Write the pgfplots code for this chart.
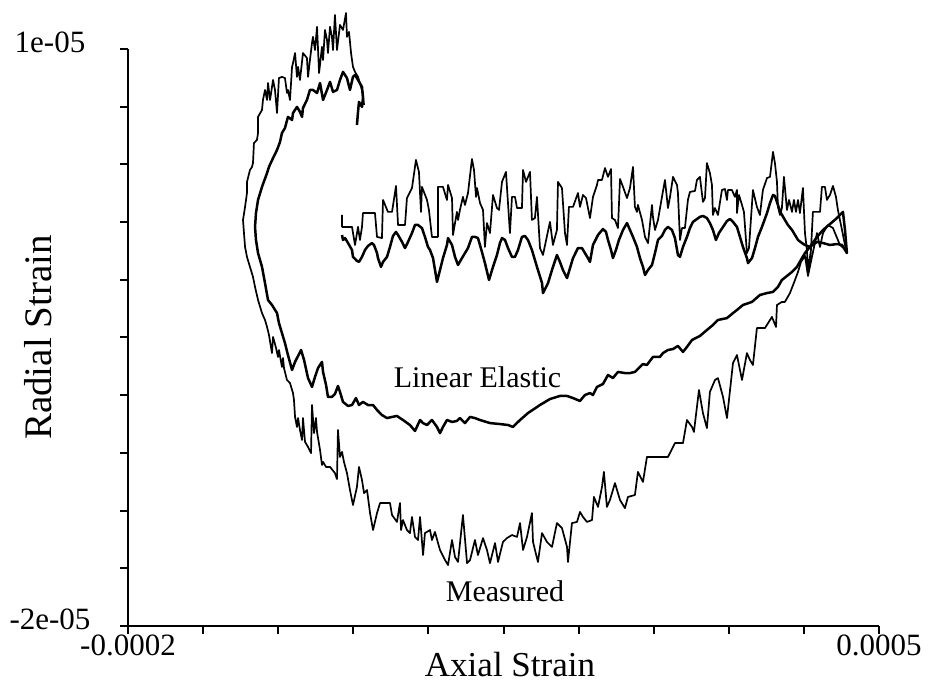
\documentclass[border=0pt]{standalone}
\usepackage{fontspec}
\setmainfont{Liberation Serif}
\usepackage{pgfplots}
\pgfplotsset{compat=1.18}

% strains in units of 1e-6 (microstrain)
\begin{document}
\begin{tikzpicture}
\useasboundingbox (-64pt,-31pt) rectangle (401pt,313pt);
\begin{axis}[
    at={(0pt,0pt)}, anchor=south west,
    scale only axis,
    width=375.5pt, height=288.5pt,
    xmin=-200, xmax=500,
    ymin=-20, ymax=10,
    axis lines=left,
    axis line style={-, line width=1pt},
    tick align=outside,
    major tick length=4pt,
    every tick/.style={black, line width=1pt},
    xtick={-200,-130,-60,10,80,150,220,290,360,430,500},
    ytick={-20,-17,-14,-11,-8,-5,-2,1,4,7,10},
    xticklabels={-0.0002,,,,,,,,,,0.0005},
    yticklabels={-2e-05,,,,,,,,,,1e-05},
    tick label style={font=\fontsize{15.5}{18}\selectfont},
    xticklabel style={anchor=center, yshift=-5.5pt},
    yticklabel style={anchor=center, xshift=-35pt, yshift=3.5pt},
    xlabel={Axial Strain},
    ylabel={Radial Strain},
    xlabel style={font=\fontsize{17.5}{21}\selectfont, at={(axis description cs:0.5087,-0.087)}, anchor=base},
    ylabel style={font=\fontsize{19.5}{23}\selectfont, at={(axis description cs:-0.1192,0.5)}, anchor=center},
    clip=false,
  ]

% Measured
\addplot[black, line width=0.85pt, line join=round] coordinates {
(-0.5,1.37) (-0.5,0.75) (8.8,0.75) (11.6,-0.19) (14.4,0.75) (16.2,0.07) (18.1,0.75) (19.0,1.47)
(30.2,1.47) (32.1,0.23) (36.7,0.17) (37.7,2.15) (42.3,1.53) (46.1,1.53) (49.8,2.88) (51.7,0.85)
(58.2,0.85) (60.0,2.25) (64.7,2.77) (68.4,4.23) (71.2,3.61) (73.1,1.53) (74.0,2.83) (78.7,2.15)
(80.5,1.63) (83.3,0.23) (88.9,0.23) (88.9,2.83) (93.6,2.83) (97.3,2.15) (98.3,2.93) (102.0,2.25)
(102.9,0.33) (106.6,1.53) (107.6,1.11) (109.4,1.63) (112.2,2.31) (114.1,1.89) (116.9,2.51) (120.6,4.28)
(122.5,3.71) (124.4,2.31) (125.3,2.77) (128.1,1.99) (130.9,1.63) (132.7,-0.29) (134.6,0.95) (137.4,0.43)
(140.2,2.41) (143.9,1.73) (145.8,1.63) (148.6,3.09) (152.3,3.61) (156.0,0.43) (157.9,2.31) (160.7,2.31)
(162.6,1.73) (167.2,1.73) (168.2,3.71) (171.0,3.09) (174.7,3.61) (176.5,1.11) (179.3,1.21) (181.2,2.31)
(184.0,-0.35) (186.8,-0.71) (193.3,1.01) (196.1,-0.19) (199.8,0.59) (200.8,3.09) (204.5,2.77) (207.3,0.43)
(209.2,-0.19) (211.0,1.79) (214.8,1.79) (219.4,2.51) (221.3,1.79) (224.1,2.41) (226.9,2.25) (230.6,1.21)
(233.4,2.31) (237.1,2.93) (238.1,3.19) (241.8,3.19) (244.6,3.81) (247.4,3.35) (250.2,3.76) (251.1,1.21)
(253.9,1.11) (256.7,0.69) (258.6,3.24) (261.4,2.83) (265.1,2.25) (267.9,2.77) (270.7,3.87) (272.5,1.79)
(274.4,1.53) (275.3,1.89) (279.1,1.11) (281.9,0.23) (284.7,-0.09) (288.4,1.89) (289.3,1.27) (291.2,0.59)
(294.0,1.11) (297.7,2.31) (300.5,3.19) (303.3,1.73) (305.2,2.31) (308.0,3.35) (311.7,2.93) (312.6,2.51)
(314.5,0.07) (316.3,0.69) (319.1,0.69) (321.9,2.15) (323.8,2.57) (328.5,2.62) (330.3,3.19) (333.1,3.35)
(335.9,2.05) (337.8,2.25) (339.6,4.07) (342.4,3.55) (344.3,2.93) (345.2,1.37) (347.1,1.73) (349.9,1.37)
(353.6,2.67) (356.4,2.72) (358.3,2.15) (359.2,2.67) (362.9,2.67) (365.7,2.31) (367.6,2.67) (367.6,1.47)
(369.5,2.41) (372.3,1.89) (374.1,1.53) (376.9,-0.61) (378.8,-0.35) (382.5,2.67) (386.2,1.79) (389.0,1.37)
(391.8,2.67) (395.6,3.29) (398.4,3.35) (401.2,4.65) (403.0,4.07) (404.9,3.09) (405.8,1.79) (407.7,1.37)
(409.5,1.73) (411.4,3.35) (414.2,1.63) (416.1,2.15) (418.9,1.53) (420.7,2.15) (422.6,1.53) (424.5,2.15)
(426.3,1.47) (429.1,2.77) (431.0,0.43) (432.8,-0.45) (433.8,-1.49) (436.6,-0.45) (438.4,1.53) (445.0,1.53)
(446.8,2.83) (449.6,2.83) (451.5,2.15) (452.4,2.25) (454.3,2.41) (457.1,2.88) (459.9,2.31) (461.7,1.63)
(465.5,0.59) (469.2,-0.45)
(463.6,-0.19) (457.1,0.69) (452.4,0.85) (447.8,0.43) (445.0,-0.29) (442.2,0.43) (437.5,-0.81) (433.8,-1.80)
(431.0,-0.76) (427.3,-1.07) (424.5,-1.59) (421.7,-2.01) (417.0,-2.69) (412.3,-3.15) (409.5,-3.15) (404.9,-3.31)
(404.0,-4.45) (400.2,-3.93) (393.7,-4.51) (386.2,-4.51) (382.5,-6.43) (379.7,-6.17) (376.9,-5.81) (372.3,-7.21)
(367.6,-5.91) (363.9,-6.33) (358.3,-9.19) (354.6,-8.09) (349.9,-7.11) (347.1,-7.21) (342.4,-7.83) (339.6,-9.71)
(335.9,-8.93) (332.2,-7.73) (327.5,-9.91) (325.7,-9.65) (321.0,-9.29) (317.3,-10.49) (309.8,-10.49) (303.3,-11.21)
(293.1,-11.21) (283.7,-11.21) (280.0,-12.51) (275.3,-11.99) (272.5,-13.19) (266.0,-13.29) (263.2,-13.87) (258.6,-13.45)
(253.9,-12.57) (249.2,-13.45) (246.4,-13.81) (243.6,-11.99) (241.8,-12.77) (238.1,-13.81) (234.3,-13.29) (232.5,-14.49)
(227.8,-14.59) (224.1,-14.33) (221.3,-14.07) (218.5,-14.59) (213.8,-14.65) (210.1,-16.67) (209.2,-15.89) (204.5,-14.91)
(199.8,-14.65) (195.2,-15.89) (190.5,-15.63) (185.9,-15.17) (182.1,-16.67) (177.5,-15.63) (176.5,-14.13) (171.9,-15.37)
(168.2,-16.05) (165.4,-14.65) (162.6,-15.37) (157.9,-15.27) (153.2,-15.43) (149.5,-15.63) (144.9,-16.67) (142.1,-15.69)
(137.4,-16.73) (134.6,-16.05) (130.9,-15.43) (126.2,-16.31) (123.4,-15.53) (118.8,-16.57) (116.0,-16.73) (112.2,-14.23)
(107.6,-16.67) (104.8,-16.41) (102.0,-15.53) (98.3,-16.83) (95.5,-16.57) (90.8,-16.05) (86.1,-15.11) (83.3,-15.53)
(81.5,-15.01) (76.8,-15.17) (75.0,-16.31) (72.2,-14.33) (70.3,-15.53) (67.5,-15.37) (64.7,-14.33) (62.8,-15.17)
(60.0,-15.01) (56.3,-14.49) (54.5,-15.01) (53.5,-13.61) (50.7,-14.59) (46.1,-14.23) (44.2,-13.61) (34.9,-13.61)
(32.1,-14.13) (28.4,-15.01) (25.6,-14.13) (22.8,-12.93) (20.0,-13.09) (18.1,-12.41) (15.3,-11.73) (13.4,-12.77)
(9.7,-13.71) (6.9,-12.93) (4.1,-12.05) (1.3,-11.47) (-0.5,-10.95) (-2.4,-11.21) (-4.3,-9.81) (-5.2,-12.36)
(-7.1,-12.05) (-11.7,-11.73) (-15.4,-11.73) (-18.2,-11.47) (-19.2,-11.63) (-21.0,-10.85) (-23.8,-9.91) (-24.8,-9.19)
(-26.6,-9.97) (-28.5,-8.51) (-29.4,-11.01) (-32.2,-10.69) (-35.0,-10.43) (-36.9,-9.19) (-37.8,-10.33) (-39.7,-9.81)
(-41.5,-9.19) (-42.5,-9.65) (-44.3,-9.13) (-45.3,-8.25) (-46.2,-7.89) (-49.0,-7.37) (-51.8,-7.21) (-54.6,-6.59)
(-55.5,-6.07) (-56.5,-6.53) (-59.3,-5.65) (-60.2,-6.01) (-62.0,-5.55) (-64.8,-4.97) (-65.8,-5.81) (-68.6,-4.87)
(-70.4,-4.45) (-72.3,-4.09) (-75.1,-3.73) (-78.8,-3.05) (-81.6,-2.37) (-83.5,-1.85) (-86.3,-1.33) (-89.1,-0.81)
(-90.9,-0.29) (-91.9,0.43) (-92.8,1.11) (-90.9,1.79) (-89.1,2.51) (-89.1,3.09) (-86.3,3.71) (-84.4,3.87)
(-83.5,4.07) (-82.6,5.11) (-79.8,5.27) (-78.8,5.63) (-78.8,6.47) (-75.1,6.83) (-74.2,7.35) (-72.3,7.87)
(-70.4,7.35) (-69.5,8.23) (-67.6,7.35) (-64.8,8.39) (-63.0,7.87) (-61.1,6.67) (-59.3,8.49) (-56.5,8.55)
(-53.7,8.49) (-51.8,7.71) (-50.9,7.87) (-49.0,7.35) (-47.1,9.07) (-46.2,9.27) (-44.3,9.79) (-42.5,8.55)
(-41.5,9.07) (-39.7,8.39) (-36.9,9.79) (-33.2,9.53) (-32.2,8.55) (-30.4,9.43) (-28.5,10.31) (-27.6,10.63)
(-25.7,9.95) (-23.8,11.15) (-21.9,8.75) (-19.2,10.11) (-18.2,9.43) (-16.4,10.99) (-14.5,10.47) (-13.6,9.79)
(-11.7,11.15) (-9.9,10.63) (-8.9,9.95) (-7.1,11.77) (-5.2,9.95) (-2.4,11.25) (0.4,10.99) (3.2,11.87)
(4.1,10.63) (6.0,10.89) (7.9,9.79) (9.7,9.07) (11.6,8.81) (14.4,8.55) (17.2,8.03) (19.0,7.71) (20.0,7.09)
};

% Linear Elastic
\addplot[black, line width=1.25pt, line join=round] coordinates {
(-0.5,0.33) (0.4,0.07) (2.3,0.17) (5.1,-0.09) (8.8,-0.45) (9.7,-0.81) (13.4,-1.02) (15.3,-1.07)
(18.1,-0.81) (20.9,-0.45) (23.7,-0.24) (27.4,-0.09) (29.3,-0.19) (32.1,-0.61) (33.0,-0.87) (35.8,-1.33)
(37.7,-1.07) (41.4,-0.81) (44.2,-0.29) (47.0,0.28) (49.8,0.49) (51.7,0.33) (55.4,-0.03) (58.2,-0.35)
(61.0,-0.03) (64.7,0.43) (67.5,0.85) (70.3,0.85) (74.0,0.69) (76.8,0.23) (79.6,-0.29) (81.5,-0.45)
(84.3,-0.87) (88.0,-2.11) (90.8,-1.49) (93.6,-0.87) (97.3,-0.19) (98.3,0.17) (102.0,-0.19) (104.8,-0.81)
(107.6,-1.23) (111.3,-0.87) (114.1,-0.61) (116.9,-0.35) (120.6,0.23) (123.4,0.23) (126.2,0.17) (129.9,-0.55)
(132.7,-1.13) (136.5,-2.01) (140.2,-1.33) (143.9,-0.71) (146.7,-0.09) (148.6,0.17) (151.4,0.07) (154.2,-0.35)
(157.9,-0.81) (160.7,-0.81) (163.5,-0.45) (167.2,0.23) (170.0,0.28) (172.8,0.07) (176.5,-0.45) (181.2,-1.33)
(185.9,-2.17) (186.8,-2.69) (191.5,-2.17) (195.2,-1.49) (199.8,-0.71) (202.6,-1.07) (205.4,-1.49) (209.2,-1.91)
(212.0,-1.39) (214.8,-0.87) (219.4,-0.35) (223.1,-0.35) (225.9,-0.61) (228.7,-0.87) (230.6,-1.07) (233.4,-0.19)
(238.1,0.33) (242.7,0.64) (245.5,0.49) (247.4,0.07) (250.2,-0.45) (252.0,-0.87) (254.8,-0.45) (257.6,0.07)
(261.4,0.59) (265.1,0.95) (267.9,0.59) (270.7,0.23) (274.4,-0.29) (277.2,-0.87) (280.0,-1.33) (281.9,-1.75)
(284.7,-1.49) (288.4,-1.23) (291.2,-0.61) (294.0,0.07) (297.7,0.28) (300.5,0.59) (303.3,0.75) (307.0,0.59)
(309.8,0.17) (312.6,-0.71) (314.5,-0.81) (317.3,-0.29) (321.0,0.23) (323.8,0.69) (326.6,1.01) (330.3,1.16)
(333.1,1.27) (335.9,1.32) (339.6,1.21) (342.4,0.95) (345.2,0.59) (348.0,0.07) (350.8,0.43) (354.6,0.75)
(358.3,1.06) (361.1,1.16) (363.9,1.01) (367.6,0.75) (370.4,0.23) (373.2,-0.29) (376.9,-0.87) (377.9,-1.13)
(381.6,-0.87) (384.4,-0.35) (387.2,0.23) (390.9,0.75) (395.6,1.47) (398.4,1.99) (401.2,2.41) (403.0,2.36)
(405.8,1.89) (408.6,1.47) (412.3,1.11) (415.1,0.85) (418.9,0.59) (421.7,0.33) (424.5,0.07) (428.2,-0.09)
(431.0,-0.19) (435.6,-0.29) (442.2,-0.03) (447.8,-0.09) (454.3,-0.19) (460.8,-0.14) (465.5,-0.19) (470.1,-0.61)
(468.3,0.59) (466.4,1.53)
(460.8,1.21) (454.3,0.90) (447.8,0.59) (442.2,0.23) (435.6,-0.29) (431.0,-0.61) (428.2,-0.87) (423.5,-1.33)
(418.9,-1.59) (414.2,-1.80) (409.5,-2.01) (405.8,-2.37) (401.2,-2.63) (395.6,-2.69) (389.0,-2.79) (381.6,-3.15)
(373.2,-3.31) (367.6,-3.57) (363.9,-3.73) (358.3,-3.99) (349.9,-4.09) (345.2,-4.35) (339.6,-4.61) (333.1,-4.92)
(325.7,-5.13) (321.0,-5.49) (317.3,-5.75) (312.6,-5.44) (308.0,-5.60) (303.3,-5.65) (298.6,-5.81) (295.8,-6.01)
(289.3,-6.01) (283.7,-6.43) (280.0,-6.38) (277.2,-6.53) (272.5,-6.79) (267.9,-6.85) (263.2,-6.85) (256.7,-6.79)
(252.0,-7.11) (247.4,-6.95) (242.7,-7.42) (237.1,-7.57) (233.4,-7.99) (230.6,-7.89) (225.9,-7.99) (221.3,-8.30)
(214.8,-8.15) (209.2,-8.04) (202.6,-8.04) (193.3,-8.20) (184.0,-8.51) (172.8,-8.93) (165.4,-9.29) (158.8,-9.65)
(154.2,-9.55) (146.7,-9.50) (137.4,-9.45) (128.1,-9.29) (123.4,-9.19) (118.8,-9.13) (114.1,-9.45) (109.4,-9.19)
(106.6,-9.34) (102.0,-9.39) (97.3,-9.29) (93.6,-9.65) (90.8,-9.97) (88.0,-9.65) (83.3,-9.29) (78.7,-9.55)
(75.0,-9.45) (72.2,-9.29) (67.5,-9.86) (62.8,-9.55) (56.3,-9.29) (50.7,-9.08) (46.1,-9.13) (41.4,-9.19)
(36.7,-9.03) (32.1,-8.77) (28.4,-8.51) (23.7,-8.51) (19.0,-8.35) (15.3,-8.51) (12.5,-8.15) (8.8,-8.51)
(5.1,-8.56) (0.4,-8.35) (-2.4,-7.83) (-4.3,-7.52) (-7.1,-7.94) (-9.9,-8.09) (-13.6,-8.09) (-15.4,-7.47)
(-18.2,-6.79) (-19.2,-6.27) (-22.9,-6.59) (-25.7,-7.05) (-28.5,-7.57) (-32.2,-7.11) (-35.9,-6.17) (-38.7,-5.65)
(-44.3,-6.27) (-47.1,-6.69) (-50.9,-5.91) (-53.7,-5.29) (-56.5,-4.77) (-59.3,-4.25) (-61.1,-3.73) (-65.8,-3.31)
(-69.5,-3.05) (-72.3,-2.17) (-75.1,-1.33) (-78.8,-0.61) (-80.7,0.07) (-81.6,0.75) (-80.7,1.47) (-78.8,2.15)
(-75.1,2.83) (-70.4,3.55) (-68.6,3.87) (-64.8,4.33) (-61.1,4.75) (-58.3,5.17) (-56.5,5.63) (-53.7,5.89)
(-50.9,6.47) (-47.1,6.31) (-46.2,6.67) (-42.5,6.99) (-39.7,6.73) (-37.8,6.47) (-36.9,6.93) (-33.2,7.35)
(-30.4,7.87) (-27.6,7.87) (-23.8,7.71) (-21.0,8.23) (-18.2,7.35) (-14.5,7.87) (-11.7,8.29) (-8.9,7.77)
(-5.2,7.87) (-2.4,8.39) (0.4,8.81) (4.1,8.49) (6.9,7.87) (9.7,8.55) (11.6,8.65) (14.4,8.39)
(18.1,8.03) (19.0,7.45) (18.1,6.99) (15.3,7.25) (14.4,6.73) (13.4,6.05)
};

\node[anchor=base, font=\fontsize{15}{18}\selectfont] at (axis cs:125.8,-7.6) {Linear Elastic};
\node[anchor=base, font=\fontsize{15}{18}\selectfont] at (axis cs:151.4,-18.75) {Measured};
\end{axis}
\end{tikzpicture}
\end{document}
